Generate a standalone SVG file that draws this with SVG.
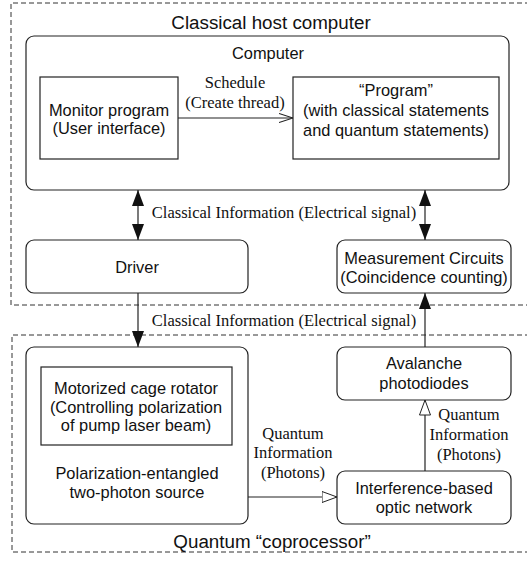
<svg xmlns="http://www.w3.org/2000/svg" width="527" height="565" viewBox="0 0 527 565">
<defs>
<style>
.dash{fill:none;stroke:#333;stroke-width:1;stroke-dasharray:5,3}
.box{fill:#fff;stroke:#222;stroke-width:1.2}
.s{font-family:"Liberation Sans",Arial,sans-serif;font-size:16.4px;fill:#111;text-anchor:middle}
.t{font-family:"Liberation Sans",Arial,sans-serif;font-size:18.8px;fill:#111;text-anchor:middle}
.r{font-family:"Liberation Serif","Times New Roman",serif;font-size:16.5px;fill:#111;text-anchor:middle}
.ln{fill:none;stroke:#222;stroke-width:1.2}
</style>
<marker id="fillb" viewBox="0 0 16 12" refX="16" refY="6" markerWidth="16" markerHeight="12" markerUnits="userSpaceOnUse" orient="auto-start-reverse"><path d="M0,0 L16,6 L0,12 z" fill="#111"/></marker>
<marker id="open" viewBox="0 0 14 10" refX="14" refY="5" markerWidth="14" markerHeight="10" markerUnits="userSpaceOnUse" orient="auto"><path d="M0,0.5 L14,5 L0,9.5" fill="none" stroke="#222" stroke-width="1.1"/></marker>
<marker id="hollow" viewBox="0 0 16 12" refX="15.5" refY="6" markerWidth="16" markerHeight="12" markerUnits="userSpaceOnUse" orient="auto"><path d="M0.5,0.5 L15.5,6 L0.5,11.5 z" fill="#fff" stroke="#222" stroke-width="1"/></marker>
</defs>
<rect width="527" height="565" fill="#fff"/>
<g id="classical-host">
<path class="dash" d="M530,3 H11 V305 H530"/>
<text class="t" x="271" y="29">Classical host computer</text>
</g>
<g id="quantum-coprocessor">
<path class="dash" d="M530,335 H12 V552 H530"/>
<text class="t" x="272" y="548">Quantum “coprocessor”</text>
</g>
<g id="computer">
<rect class="box" x="26" y="36" width="483" height="154" rx="8"/>
<text class="s" x="268" y="59">Computer</text>
</g>
<g id="monitor">
<rect class="box" x="40" y="77" width="138" height="82"/>
<text class="s" x="109" y="116">Monitor program</text>
<text class="s" x="109" y="134">(User interface)</text>
</g>
<g id="program">
<rect class="box" x="293" y="77" width="206" height="82"/>
<text class="s" x="396" y="96">“Program”</text>
<text class="s" x="396" y="116">(with classical statements</text>
<text class="s" x="396" y="136">and quantum statements)</text>
</g>
<g id="driver">
<rect class="box" x="26" y="240" width="222" height="53" rx="8"/>
<text class="s" x="137" y="273">Driver</text>
</g>
<g id="measurement">
<rect class="box" x="337" y="240" width="174" height="53" rx="8"/>
<text class="s" x="424" y="264">Measurement Circuits</text>
<text class="s" x="424" y="283">(Coincidence counting)</text>
</g>
<g id="source">
<rect class="box" x="26" y="347" width="222" height="177" rx="8"/>
<text class="s" x="137" y="479">Polarization-entangled</text>
<text class="s" x="137" y="498">two-photon source</text>
</g>
<g id="rotator">
<rect class="box" x="41" y="367" width="191" height="78"/>
<text class="s" x="136" y="394">Motorized cage rotator</text>
<text class="s" x="136" y="413">(Controlling polarization</text>
<text class="s" x="136" y="431">of pump laser beam)</text>
</g>
<g id="avalanche">
<rect class="box" x="337" y="347" width="174" height="53" rx="8"/>
<text class="s" x="424" y="369">Avalanche</text>
<text class="s" x="424" y="389">photodiodes</text>
</g>
<g id="interference">
<rect class="box" x="337" y="471" width="174" height="53" rx="8"/>
<text class="s" x="424" y="494">Interference-based</text>
<text class="s" x="424" y="513">optic network</text>
</g>
<g id="connectors">
<line class="ln" x1="178" y1="118" x2="293" y2="118" marker-end="url(#open)"/>
<text class="r" x="235" y="88">Schedule</text>
<text class="r" x="235" y="108">(Create thread)</text>
<line class="ln" x1="138" y1="190" x2="138" y2="240" marker-start="url(#fillb)" marker-end="url(#fillb)"/>
<line class="ln" x1="425" y1="190" x2="425" y2="240" marker-start="url(#fillb)" marker-end="url(#fillb)"/>
<text class="r" x="284" y="218">Classical Information (Electrical signal)</text>
<line class="ln" x1="138" y1="293" x2="138" y2="347" marker-end="url(#fillb)"/>
<text class="r" x="284" y="326">Classical Information (Electrical signal)</text>
<line class="ln" x1="425" y1="347" x2="425" y2="293" stroke="#444" marker-end="url(#fillb)"/>
<line class="ln" x1="248" y1="497" x2="337" y2="497" marker-end="url(#hollow)"/>
<text class="r" x="293" y="439">Quantum</text>
<text class="r" x="293" y="458">Information</text>
<text class="r" x="293" y="478">(Photons)</text>
<line class="ln" x1="425" y1="471" x2="425" y2="400" stroke="#444" marker-end="url(#hollow)"/>
<text class="r" x="469" y="420">Quantum</text>
<text class="r" x="469" y="440">Information</text>
<text class="r" x="469" y="460">(Photons)</text>
</g>
</svg>
